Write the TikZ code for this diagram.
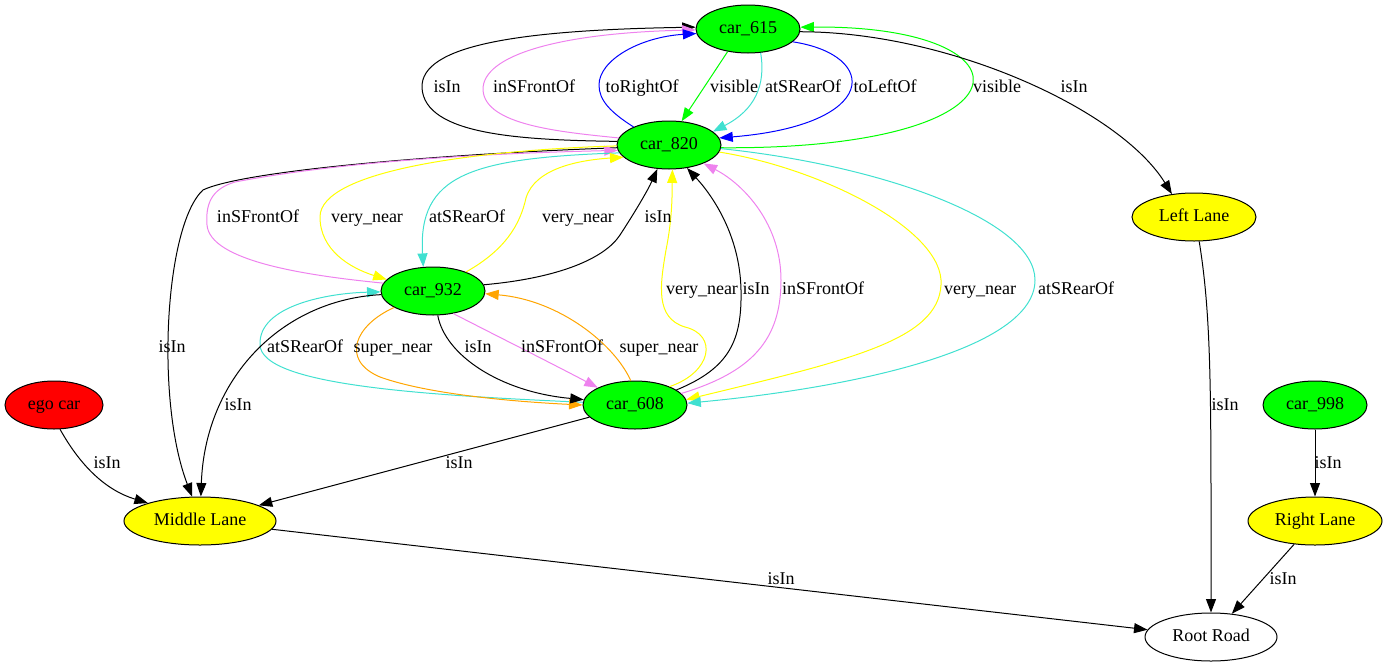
\documentclass[tikz,border=0pt]{standalone}
\usepackage{fontspec}
\setmainfont{Liberation Serif}
\usetikzlibrary{arrows.meta,shapes.geometric}
\definecolor{gvgreen}{RGB}{0,255,0}
\definecolor{gvyellow}{RGB}{255,255,0}
\definecolor{gvred}{RGB}{255,0,0}
\definecolor{gvviolet}{RGB}{238,130,238}
\definecolor{gvturq}{RGB}{64,224,208}
\definecolor{gvorange}{RGB}{255,165,0}
\definecolor{gvblue}{RGB}{0,0,255}
\begin{document}
\begin{tikzpicture}[x=1pt,y=-1pt,
  txt/.style={font=\fontsize{18}{21}\selectfont, text height=12.5pt, text depth=3.5pt},
  gnode/.style={txt, draw=black, ellipse, line width=1pt, inner sep=0pt, minimum height=48pt},
  carnode/.style={gnode, fill=gvgreen, minimum width=104pt},
  lanenode/.style={gnode, fill=gvyellow},
  rel/.style={line width=1pt, -{Triangle[length=13.5pt,width=10pt]}},
  lbl/.style={txt, inner sep=0pt, anchor=base}]
\useasboundingbox (0,0) rectangle (1387,667);

% scene graph nodes
\node[carnode] (c615) at (748,29) {car\_615};
\node[carnode] (c820) at (669,145) {car\_820};
\node[lanenode, minimum width=124pt] (LL) at (1194,217) {Left Lane};
\node[carnode] (c932) at (433,291) {car\_932};
\node[carnode] (c608) at (635,405) {car\_608};
\node[gnode, fill=gvred, minimum width=98pt] (ego) at (54,405) {ego car};
\node[carnode] (c998) at (1315,405) {car\_998};
\node[lanenode, minimum width=152pt] (ML) at (200,521) {Middle Lane};
\node[lanenode, minimum width=134pt] (RL) at (1315,521) {Right Lane};
\node[gnode, fill=white, minimum width=132pt] (RR) at (1211,637) {Root Road};

% car_820 <-> car_615
\draw[rel] (c820.176) .. controls (520,140) and (425,135) .. (422,88)
  .. controls (420,45) and (520,30) .. (c615.178);
\draw[rel, gvviolet] (c820.172) .. controls (560,132) and (485,125) .. (483,90)
  .. controls (482,55) and (560,33) .. (c615.181);
\draw[rel, gvblue] (c820.153) .. controls (610,112) and (599,100) .. (599,85)
  .. controls (599,60) and (640,37) .. (c615.185);
\draw[rel, gvgreen] (c615.228) -- (c820.62);
\draw[rel, gvturq] (c615.298) .. controls (766,85) and (755,110) .. (c820.17);
\draw[rel, gvblue] (c615.344) .. controls (880,55) and (880,125) .. (c820.8);
\draw[rel, gvgreen] (c820.357) .. controls (1040,150) and (1040,25) .. (c615.2);
\draw[rel] (c615.357) .. controls (950,32) and (1120,110) .. (LL.134);

% car_820 <-> car_932 and Middle Lane
\draw[rel] (c820.183) .. controls (420,155) and (240,172) .. (203,190)
  .. controls (165,225) and (155,400) .. (ML.108);
\draw[rel, gvviolet] (c932.171) .. controls (300,275) and (210,260) .. (207,225)
  .. controls (205,200) and (215,188) .. (235,182)
  .. controls (350,160) and (500,153) .. (c820.186);
\draw[rel, gvyellow] (c820.181) .. controls (480,150) and (320,170) .. (320,217)
  .. controls (320,250) and (350,268) .. (c932.166);
\draw[rel, gvturq] (c820.189) .. controls (470,158) and (418,175) .. (c932.112);
\draw[rel, gvyellow] (c932.30) .. controls (505,250) and (520,225) .. (526,198)
  .. controls (535,168) and (580,160) .. (c820.195);
\draw[rel] (c932.7) .. controls (560,278) and (605,258) .. (620,235)
  .. controls (635,212) and (648,190) .. (c820.244);

% car_608 <-> car_820
\draw[rel, gvyellow] (c608.28) .. controls (712,372) and (718,335) .. (685,327)
  .. controls (655,318) and (660,285) .. (666,250)
  .. controls (673,215) and (672,190) .. (c820.278);
\draw[rel] (c608.20) .. controls (730,368) and (742,340) .. (741,290)
  .. controls (740,235) and (712,195) .. (c820.308);
\draw[rel, gvviolet] (c608.14) .. controls (752,372) and (781,340) .. (781,280)
  .. controls (781,225) and (745,185) .. (c820.332);
\draw[rel, gvyellow] (c820.352) .. controls (820,168) and (945,230) .. (941,285)
  .. controls (938,340) and (850,360) .. (c608.6);
\draw[rel, gvturq] (c820.356) .. controls (880,165) and (1035,220) .. (1035,280)
  .. controls (1035,350) and (850,388) .. (c608.2);

% car_932 <-> car_608
\draw[rel, gvturq] (c608.177) .. controls (420,395) and (262,385) .. (260,345)
  .. controls (258,305) and (330,293) .. (c932.181);
\draw[rel, gvorange] (c932.203) .. controls (355,325) and (340,360) .. (380,377)
  .. controls (430,395) and (520,402) .. (c608.180);
\draw[rel] (c932.281) .. controls (445,355) and (500,392) .. (c608.174);
\draw[rel, gvviolet] (c932.312) .. controls (495,335) and (545,360) .. (c608.155);
\draw[rel, gvorange] (c608.100) .. controls (615,345) and (560,300) .. (c932.357);

% lanes and road
\draw[rel] (c932.184) .. controls (280,300) and (205,380) .. (ML.88);
\draw[rel] (ego.284) .. controls (80,465) and (105,490) .. (ML.161);
\draw[rel] (c608) -- (ML);
\draw[rel] (ML) -- (RR);
\draw[rel] (LL.282) .. controls (1212,320) and (1211,400) .. (RR.north);
\draw[rel] (c998) -- (RL);
\draw[rel] (RL) -- (RR);

% edge labels
\node[lbl] (t1) at (447,92) {isIn};
\node[lbl] (t2) at (534,92) {inSFrontOf};
\node[lbl] (t3) at (642,92) {toRightOf};
\node[lbl] (t4) at (734,92) {visible};
\node[lbl] (t5) at (803,92) {atSRearOf};
\node[lbl] (t6) at (885,92) {toLeftOf};
\node[lbl] (t7) at (997,92) {visible};
\node[lbl] (t8) at (1074,92) {isIn};

\node[lbl] (t9) at (258,222) {inSFrontOf};
\node[lbl] (t10) at (367,222) {very\_near};
\node[lbl] (t11) at (467,222) {atSRearOf};
\node[lbl] (t12) at (578,222) {very\_near};
\node[lbl] (t13) at (658,222) {isIn};

\node[lbl] (t14) at (702,294) {very\_near};
\node[lbl] (t15) at (756,294) {isIn};
\node[lbl] (t16) at (823,294) {inSFrontOf};
\node[lbl] (t17) at (980,294) {very\_near};
\node[lbl] (t18) at (1076,294) {atSRearOf};

\node[lbl] (t19) at (172,352) {isIn};
\node[lbl] (t20) at (305,352) {atSRearOf};
\node[lbl] (t21) at (393,352) {super\_near};
\node[lbl] (t22) at (478,352) {isIn};
\node[lbl] (t23) at (562,352) {inSFrontOf};
\node[lbl] (t24) at (659,352) {super\_near};

\node[lbl] (t25) at (238,410) {isIn};
\node[lbl] (t26) at (1225,410) {isIn};
\node[lbl] (t27) at (107,468) {isIn};
\node[lbl] (t28) at (459,468) {isIn};
\node[lbl] (t29) at (1328,468) {isIn};
\node[lbl] (t30) at (781,584) {isIn};
\node[lbl] (t31) at (1283,584) {isIn};
\end{tikzpicture}
\end{document}
